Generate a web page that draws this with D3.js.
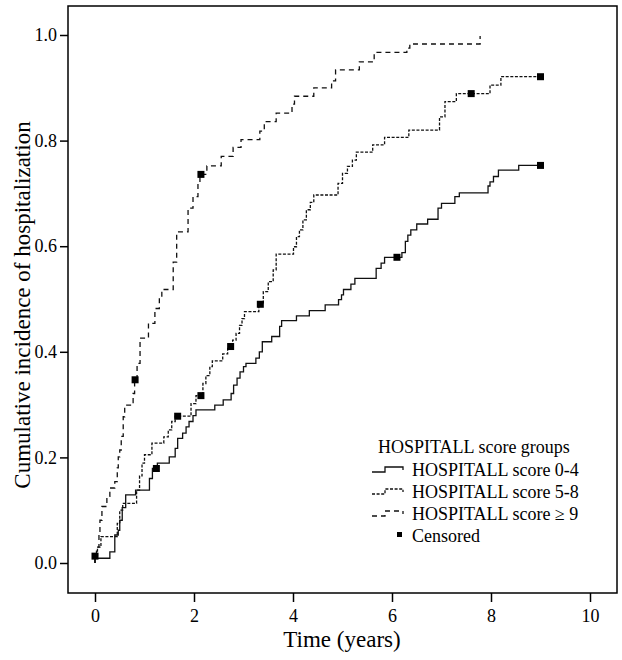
<!DOCTYPE html>
<html>
<head>
<meta charset="utf-8">
<script src="https://cdn.jsdelivr.net/npm/d3@7"></script>
<style>
  body { margin: 0; background: #fff; }
  svg { display: block; }
  text { font-family: "Liberation Serif", "Times New Roman", serif; fill: #000; }
</style>
</head>
<body>
<svg id="chart" width="622" height="660"></svg>
<script>
// [time in years, cumulative incidence] step points
var score0to4 = [[0,0],[0,0.009],[0.30,0.021],[0.40,0.053],[0.47,0.062],[0.50,0.081],[0.55,0.105],[0.62,0.129],
  [0.82,0.138],[1.10,0.160],[1.16,0.179],[1.26,0.189],[1.50,0.201],[1.62,0.217],[1.67,0.236],[1.77,0.246],
  [1.84,0.258],[1.90,0.268],[1.98,0.279],[2.04,0.290],[2.42,0.299],[2.59,0.309],[2.75,0.321],[2.80,0.337],
  [2.87,0.350],[2.93,0.362],[3.00,0.372],[3.05,0.378],[3.25,0.388],[3.32,0.400],[3.38,0.419],[3.57,0.429],
  [3.73,0.448],[3.77,0.459],[4.07,0.468],[4.33,0.478],[4.65,0.489],[4.92,0.499],[4.98,0.508],[5.02,0.518],
  [5.17,0.528],[5.25,0.539],[5.68,0.558],[5.78,0.568],[5.85,0.579],[6.20,0.588],[6.27,0.609],[6.32,0.621],
  [6.38,0.631],[6.50,0.642],[6.72,0.651],[6.93,0.672],[7.00,0.681],[7.27,0.694],[7.36,0.701],[7.94,0.714],
  [7.98,0.722],[8.05,0.732],[8.15,0.744],[8.56,0.753],[9.00,0.753]];
var score5to8 = [[0,0],[0,0.013],[0.05,0.030],[0.12,0.050],[0.45,0.075],[0.50,0.100],[0.56,0.113],[0.84,0.138],
  [0.90,0.165],[0.95,0.189],[1.00,0.205],[1.15,0.227],[1.39,0.239],[1.48,0.252],[1.55,0.268],[1.62,0.278],
  [1.94,0.302],[2.04,0.317],[2.18,0.340],[2.24,0.355],[2.32,0.372],[2.37,0.383],[2.58,0.396],[2.68,0.410],
  [2.78,0.422],[2.85,0.435],[2.92,0.450],[2.97,0.463],[3.02,0.476],[3.31,0.490],[3.40,0.514],[3.50,0.533],
  [3.60,0.555],[3.66,0.585],[4.01,0.599],[4.07,0.618],[4.13,0.631],[4.20,0.650],[4.27,0.669],[4.35,0.683],
  [4.42,0.697],[4.91,0.719],[5.00,0.738],[5.10,0.751],[5.20,0.763],[5.28,0.778],[5.61,0.792],[5.85,0.806],
  [6.34,0.820],[6.96,0.845],[7.07,0.874],[7.30,0.889],[7.98,0.905],[8.20,0.921],[9.00,0.921]];
var score9plus = [[0,0],[0,0.012],[0.03,0.030],[0.08,0.060],[0.10,0.081],[0.14,0.107],[0.24,0.126],[0.30,0.142],
  [0.40,0.154],[0.45,0.180],[0.47,0.201],[0.50,0.214],[0.53,0.240],[0.57,0.277],[0.60,0.299],[0.74,0.304],
  [0.77,0.321],[0.80,0.347],[0.85,0.378],[0.91,0.426],[1.08,0.454],[1.21,0.482],[1.30,0.500],[1.35,0.518],
  [1.58,0.570],[1.65,0.627],[1.88,0.672],[1.98,0.694],[2.08,0.720],[2.12,0.736],[2.26,0.752],[2.55,0.770],
  [2.79,0.787],[2.95,0.802],[3.33,0.818],[3.42,0.836],[3.66,0.852],[3.98,0.869],[4.03,0.884],[4.42,0.900],
  [4.78,0.913],[4.86,0.934],[5.34,0.949],[5.64,0.967],[6.30,0.975],[6.36,0.983],[7.78,0.998]];

// censored observations
var censored0to4 = [[1.24,0.179],[6.10,0.579],[9.00,0.753]];
var censored5to8 = [[0.00,0.013],[1.67,0.278],[2.14,0.317],[2.74,0.410],[3.34,0.490],[7.60,0.889],[9.00,0.921]];
var censored9plus = [[0.81,0.347],[2.14,0.736]];

var groupNames = ["HOSPITALL score 0-4", "HOSPITALL score 5-8", "HOSPITALL score \u2265 9"];
var xTicks = [0, 2, 4, 6, 8, 10];
var yTicks = [0, 0.2, 0.4, 0.6, 0.8, 1.0];

var svg = d3.select("#chart");
var frame = {left: 68, right: 617, top: 6, bottom: 593};

var x = d3.scaleLinear().domain([0, 10]).range([95, 590]);
var y = d3.scaleLinear().domain([0, 1]).range([563, 35]);

var series = [
  {data: score0to4, dash: null},
  {data: score5to8, dash: "3,1.6"},
  {data: score9plus, dash: "5,4"}
];

var line = d3.line()
  .x(function(d) { return x(d[0]); })
  .y(function(d) { return y(d[1]); })
  .curve(d3.curveStepAfter);

svg.selectAll("path.km").data(series).enter().append("path")
  .attr("class", "km")
  .attr("d", function(s) { return line(s.data); })
  .attr("fill", "none")
  .attr("stroke", "#111")
  .attr("stroke-width", 1.3)
  .attr("stroke-dasharray", function(s) { return s.dash; });

var marks = censored0to4.concat(censored5to8, censored9plus);
svg.selectAll("rect.cens").data(marks).enter().append("rect")
  .attr("class", "cens")
  .attr("x", function(d) { return x(d[0]) - 3.5; })
  .attr("y", function(d) { return y(d[1]) - 3.5; })
  .attr("width", 7).attr("height", 7)
  .attr("fill", "#000");

// frame
svg.append("rect")
  .attr("x", frame.left).attr("y", frame.top)
  .attr("width", frame.right - frame.left).attr("height", frame.bottom - frame.top)
  .attr("fill", "none").attr("stroke", "#000").attr("stroke-width", 1.5);

var xAxis = svg.append("g")
  .attr("transform", "translate(0," + frame.bottom + ")")
  .call(d3.axisBottom(x).tickValues(xTicks).tickSize(9).tickPadding(7).tickFormat(d3.format("d")));
var yAxis = svg.append("g")
  .attr("transform", "translate(" + frame.left + ",0)")
  .call(d3.axisLeft(y).tickValues(yTicks).tickSize(8).tickPadding(3).tickFormat(d3.format(".1f")));

[xAxis, yAxis].forEach(function(g) {
  g.select(".domain").remove();
  g.selectAll(".tick line").attr("stroke", "#000").attr("stroke-width", 1.5);
  g.selectAll(".tick text").attr("font-size", 18).attr("font-family", "Liberation Serif").attr("fill", "#000");
});

svg.append("text")
  .attr("x", 342).attr("y", 647)
  .attr("text-anchor", "middle").attr("font-size", 23)
  .text("Time (years)");

svg.append("text")
  .attr("transform", "translate(30,305) rotate(-90)")
  .attr("text-anchor", "middle").attr("font-size", 23)
  .text("Cumulative incidence of hospitalization");

// legend
var legend = svg.append("g");
legend.append("text").attr("x", 378).attr("y", 453).attr("font-size", 18).text("HOSPITALL score groups");

var rows = legend.selectAll("g.row").data(series).enter().append("g")
  .attr("class", "row")
  .attr("transform", function(s, i) { return "translate(0," + (476 + 22 * i) + ")"; });
rows.append("path")
  .attr("d", "M372,-4H385V-9H403V-6")
  .attr("fill", "none").attr("stroke", "#111").attr("stroke-width", 1.3)
  .attr("stroke-dasharray", function(s) { return s.dash; });
rows.append("text").attr("x", 412).attr("font-size", 18)
  .text(function(s, i) { return groupNames[i]; });

legend.append("rect").attr("x", 397).attr("y", 532).attr("width", 5).attr("height", 5).attr("fill", "#000");
legend.append("text").attr("x", 412).attr("y", 542).attr("font-size", 18).text("Censored");
</script>
</body>
</html>
